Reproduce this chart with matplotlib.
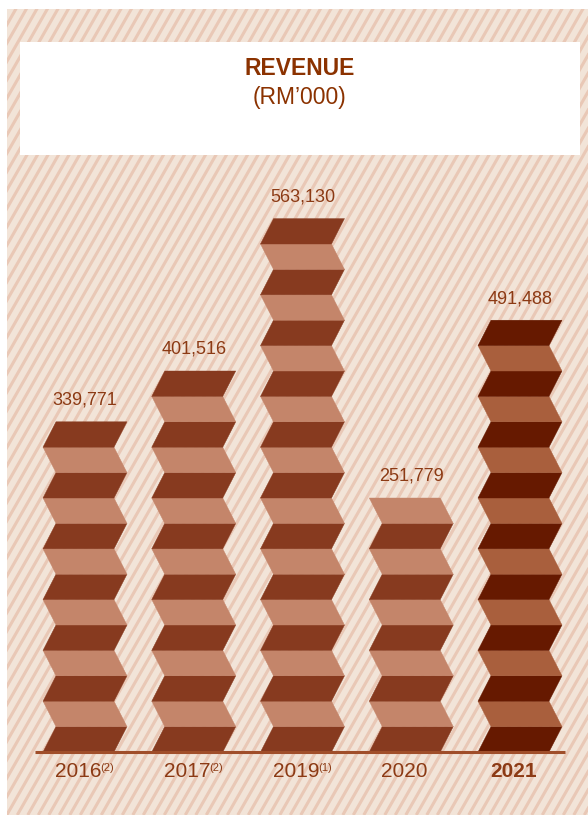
import matplotlib.pyplot as plt
import matplotlib.transforms as mtransforms
from matplotlib.patches import Polygon, Rectangle
from matplotlib.collections import LineCollection
import numpy as np

plt.rcParams["font.family"] = ["Liberation Sans", "DejaVu Sans"]

# data
years = ["2016", "2017", "2019", "2020", "2021"]
notes = ["(2)", "(2)", "(1)", "", ""]
revenue = [339771, 401516, 563130, 251779, 491488]
blocks = [13, 15, 21, 10, 17]  # stacked chevron blocks drawn for each bar

W, H = 588, 815
DPI = 100
BAR_STEP = 108.75  # px between bar centres
BLOCK_H = 25.4  # px per block
X0_PX, Y0_PX = 85.0, 752.0  # centre of first bar, baseline
HALF_W = 35.5 / BAR_STEP
SHIFT = 13.0 / BAR_STEP

DARK, LIGHT = "#873A1F", "#C4856A"
DARK_HI, LIGHT_HI = "#661900", "#A95F3D"
TEXT = "#8C3A14"
TITLE = "#8B3200"

fig = plt.figure(figsize=(W / DPI, H / DPI), dpi=DPI)

# background: striped panel + white title box, in pixel coordinates
bg = fig.add_axes([0, 0, 1, 1])
bg.set_xlim(0, W)
bg.set_ylim(H, 0)
bg.axis("off")
panel = Rectangle((7, 9), W - 7, H - 9, facecolor="#F2E4D8", edgecolor="none",
                  zorder=1)
bg.add_patch(panel)
slope = 1.75
segs = []
for x0 in np.arange(-H / slope, W + 20, 10.5):
    segs.append([(x0, H), (x0 + H / slope, 0)])
stripes = LineCollection(segs, colors="#E9C8B6", linewidths=2.2, zorder=2)
bg.add_collection(stripes)
stripes.set_clip_path(panel)
bg.add_patch(Rectangle((20, 42), 560, 113, facecolor="white", edgecolor="none",
                       zorder=3))
bg.text(300, 75, "REVENUE", ha="center", va="baseline", fontsize=16.5,
        fontweight="bold", color=TITLE, zorder=4)
bg.text(300, 104, "(RM\u2019000)", ha="center", va="baseline", fontsize=16.5,
        color=TITLE, zorder=4)

# chart axes: x = bar index, y = block units
ax = fig.add_axes([0, 0, 1, 1])
ax.patch.set_alpha(0)
ax.axis("off")
ax.set_xlim(-X0_PX / BAR_STEP, (W - X0_PX) / BAR_STEP)
ax.set_ylim((Y0_PX - H) / BLOCK_H, Y0_PX / BLOCK_H)


def off(j):
    return -SHIFT / 2 if j % 2 == 0 else SHIFT / 2


for i, (n, val) in enumerate(zip(blocks, revenue)):
    hi = i == len(blocks) - 1
    dark, light = (DARK_HI, LIGHT_HI) if hi else (DARK, LIGHT)
    for k in range(n):
        pts = [
            (i + off(k) - HALF_W, k),
            (i + off(k) + HALF_W, k),
            (i + off(k + 1) + HALF_W, k + 1),
            (i + off(k + 1) - HALF_W, k + 1),
        ]
        c = dark if k % 2 == 0 else light
        ax.add_patch(Polygon(pts, closed=True, facecolor=c, edgecolor=c,
                             linewidth=0.3))
    ax.text(i, n + 0.67, f"{val:,}", ha="center", va="baseline",
            fontsize=13, color=TEXT)

ax.hlines(0, -50 / BAR_STEP, 480 / BAR_STEP, color="#A04E2A", linewidth=2.2)

for i, (yr, note) in enumerate(zip(years, notes)):
    bold = i == len(years) - 1
    xc = i - SHIFT / 2
    ax.text(xc, -0.98, yr, ha="center", va="baseline", fontsize=15,
            fontweight="bold" if bold else "normal", color=TEXT)
    if note:
        tr = mtransforms.offset_copy(ax.transData, fig, x=22, y=6, units="dots")
        ax.text(xc, -0.98, note, ha="left", va="baseline", fontsize=8,
                color=TEXT, transform=tr)

fig.savefig("out.png", dpi=DPI)
